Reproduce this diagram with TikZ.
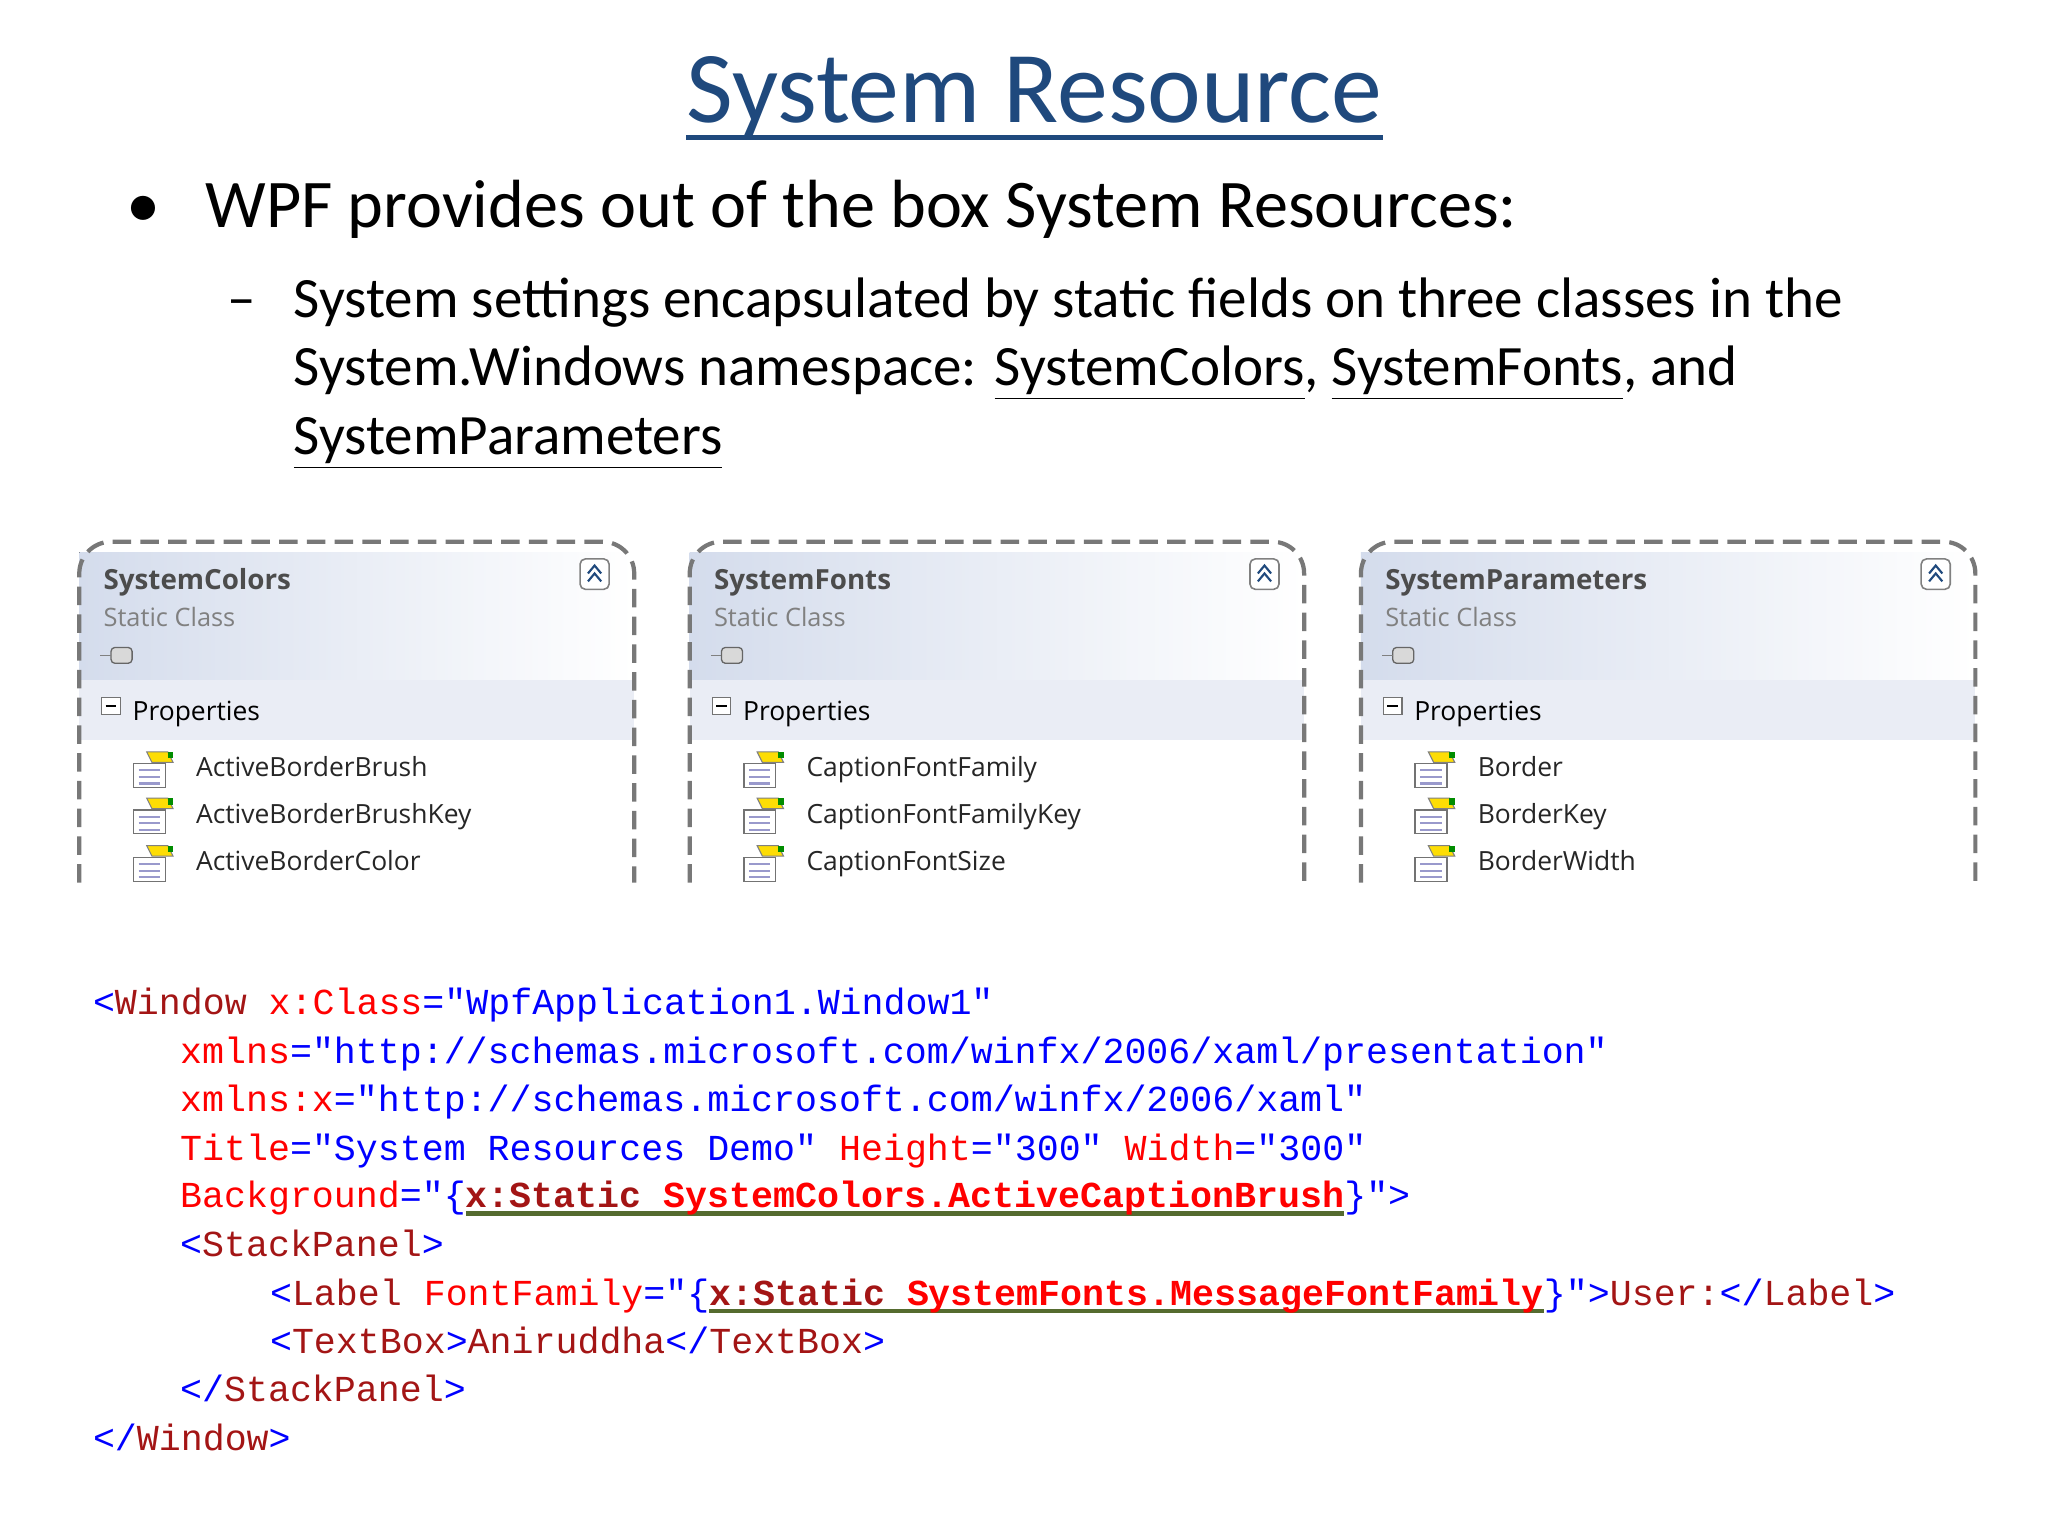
\documentclass[tikz,border=0pt]{standalone}
\usepackage{fontspec}
\setmainfont{Carlito}
\newfontfamily\ui{Open Sans}
\newfontfamily\mono{Liberation Mono}
\usetikzlibrary{calc}
\definecolor{ttl}{RGB}{31,73,125}
\definecolor{cb}{RGB}{0,0,255}
\definecolor{cd}{RGB}{163,21,21}
\definecolor{cr}{RGB}{255,0,0}
\definecolor{sqg}{RGB}{85,107,47}
\definecolor{hdr}{RGB}{212,220,236}
\definecolor{band}{RGB}{234,237,245}
\definecolor{bord}{RGB}{120,120,120}
\newcommand\tg[1]{\textcolor{cb}{#1}}
\newcommand\el[1]{\textcolor{cd}{#1}}
\newcommand\at[1]{\textcolor{cr}{#1}}
\newcommand\sq[1]{\setbox0\hbox{#1}\rlap{\color{sqg}\rule[-3pt]{\wd0}{1.6pt}}\box0}
\tikzset{
 txt/.style={anchor=base west,inner sep=0pt},
 code/.style={txt,font=\mono\fontsize{13.85}{16}\selectfont},
 btitle/.style={txt,font=\ui\bfseries\fontsize{10.5}{13}\selectfont,text=black!70},
 bsub/.style={txt,font=\ui\fontsize{9.6}{12}\selectfont,text=black!50},
 bitem/.style={txt,font=\ui\fontsize{10}{12}\selectfont,text=black!85},
}
\newcommand\icon[2]{%
 \fill[white,draw=black!55,line width=0.5pt] (#1-14,#2-3) rectangle (#1+10,#2+15);
 \foreach \k in {2,7,12}{\draw[blue!50!black!40,line width=0.8pt] (#1-10,#2+\k)--(#1+6,#2+\k);}
 \fill[yellow!80!orange,draw=black!50,line width=0.4pt] (#1-4,#2-12)--(#1+12,#2-12)--(#1+16,#2-4)--(#1,#2-4)--cycle;
 \fill[green!55!black] (#1+12,#2-12) rectangle (#1+16,#2-7);
}
\newcommand\cbox[5]{% x1 x2 name title
 \fill[left color=hdr,right color=white] (#1,418) rectangle (#2,515);
 \fill[band] (#1,515) rectangle (#2,560);
 \draw[bord,line width=1.6pt,dash pattern=on 7pt off 3.5pt,rounded corners=12pt]
   (#1,668)--(#1,410)--(#2,410)--(#2,668);
 \node[btitle] (#3t) at (#1+18,446) {#4};
 \node[bsub] (#3s) at (#1+18,474) {Static Class};
 \fill[black!15,draw=black!60,line width=0.5pt,rounded corners=1.5pt] (#1+24,490) rectangle (#1+40,502);
 \draw[black!50,line width=0.6pt] (#1+16,496)--(#1+24,496);
 \draw[black!50,line width=0.6pt,fill=white,rounded corners=2pt] (#2-41,423) rectangle (#2-19,446);
 \draw[ttl,line width=0.8pt] (#2-35,434)--(#2-30,428)--(#2-25,434) (#2-35,440)--(#2-30,434)--(#2-25,440);
 \draw[black!55,fill=white,line width=0.5pt] (#1+17,528) rectangle (#1+31,541);
 \draw[black,line width=0.8pt] (#1+20,534.5)--(#1+28,534.5);
 \node[txt,font=\ui\fontsize{10}{12}\selectfont] (#3p) at (#1+40,545) {Properties};
 #5
}
\begin{document}
\begin{tikzpicture}[x=0.5pt,y=-0.5pt]
\useasboundingbox[fill=white] (0,0) rectangle (1550,1162.5);
\node[anchor=base,inner sep=0pt,text=ttl,font=\fontsize{38.5}{44}\selectfont] (title) at (783,93) {System Resource};
\draw[ttl,line width=1.6pt] ($(title.base west)+(0,11)$) -- ($(title.base east)+(0,11)$);
\node[txt,font=\fontsize{25.8}{30}\selectfont] (b1) at (95,172) {•};
\node[txt,font=\fontsize{25.8}{30}\selectfont] (l1) at (155,172) {WPF provides out of the box System Resources:};
\node[txt,font=\fontsize{21.6}{26}\selectfont] (d1) at (172,240) {–};
\node[txt,font=\fontsize{21.6}{26}\selectfont] (l2) at (222,240) {System settings encapsulated by static fields on three classes in the};
\node[txt,font=\fontsize{21.6}{26}\selectfont] (l3) at (222,292) {System.Windows namespace: \underline{SystemColors}, \underline{SystemFonts}, and};
\node[txt,font=\fontsize{21.6}{26}\selectfont] (l4) at (222,344) {\underline{SystemParameters}};

\cbox{60}{480}{a}{SystemColors}{%
 \icon{115}{581}\node[bitem] at (148,588) {ActiveBorderBrush};
 \icon{115}{616}\node[bitem] at (148,623) {ActiveBorderBrushKey};
 \icon{115}{652}\node[bitem] at (148,659) {ActiveBorderColor};}
\cbox{522}{987}{b}{SystemFonts}{%
 \icon{577}{581}\node[bitem] at (610,588) {CaptionFontFamily};
 \icon{577}{616}\node[bitem] at (610,623) {CaptionFontFamilyKey};
 \icon{577}{652}\node[bitem] at (610,659) {CaptionFontSize};}
\cbox{1030}{1495}{c}{SystemParameters}{%
 \icon{1085}{581}\node[bitem] at (1118,588) {Border};
 \icon{1085}{616}\node[bitem] at (1118,623) {BorderKey};
 \icon{1085}{652}\node[bitem] at (1118,659) {BorderWidth};}

\node[code] (c1) at (70,768) {\tg{<}\el{Window}\ \at{x:Class}\tg{="WpfApplication1.Window1"}};
\node[code] (c2) at (136,805) {\at{xmlns}\tg{="http://schemas.microsoft.com/winfx/2006/xaml/presentation"}};
\node[code] (c3) at (136,841) {\at{xmlns:x}\tg{="http://schemas.microsoft.com/winfx/2006/xaml"}};
\node[code] (c4) at (136,878) {\at{Title}\tg{="System Resources Demo"}\ \at{Height}\tg{="300"}\ \at{Width}\tg{="300"}};
\node[code] (c5) at (136,914) {\at{Background}\tg{="\{}\sq{\textbf{\el{x:Static}\ \at{SystemColors.ActiveCaptionBrush}}}\tg{\}">}};
\node[code] (c6) at (136,951) {\tg{<}\el{StackPanel}\tg{>}};
\node[code] (c7) at (204,988) {\tg{<}\el{Label}\ \at{FontFamily}\tg{="\{}\sq{\textbf{\el{x:Static}\ \at{SystemFonts.MessageFontFamily}}}\tg{\}">}\el{User:}\tg{</}\el{Label}\tg{>}};
\node[code] (c8) at (204,1024) {\tg{<}\el{TextBox}\tg{>}\el{Aniruddha}\tg{</}\el{TextBox}\tg{>}};
\node[code] (c9) at (136,1061) {\tg{</}\el{StackPanel}\tg{>}};
\node[code] (c10) at (70,1098) {\tg{</}\el{Window}\tg{>}};
\end{tikzpicture}
\end{document}
